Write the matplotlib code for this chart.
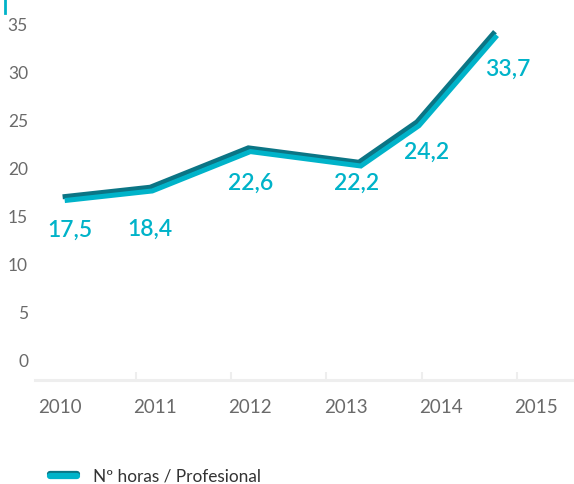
import matplotlib.pyplot as plt
import matplotlib.transforms as mtransforms
import matplotlib.patheffects as pe
from matplotlib.lines import Line2D

# data
years = ["2010", "2011", "2012", "2013", "2014", "2015"]
x_pos = [0.23, 1.15, 2.18, 3.34, 3.95, 4.77]          # where the points sit on the category axis
line_vals = [17.0, 18.0, 22.1, 20.6, 24.8, 34.2]     # drawn height of the line
labels = ["17,5", "18,4", "22,6", "22,2", "24,2", "33,7"]
series_name = "Nº horas / Profesional"

# label placement (pixel offsets from the point, y downward)
label_off = [(7, 33), (0, 42), (2, 35), (-2, 21), (10, 30), (13, 38)]

dark = "#0b7585"
cyan = "#00b3c9"
grey = "#6a6a6a"

plt.rcParams["font.family"] = ["Lato", "DejaVu Sans"]

fig = plt.figure(figsize=(5.74, 4.84), dpi=100)
ax = fig.add_axes([35 / 574, 1 - 380 / 484, 1 - 35 / 574, 380 / 484])

ax.plot(x_pos, line_vals, color=dark, lw=3.6, solid_capstyle="butt",
        solid_joinstyle="miter")
shift = mtransforms.offset_copy(ax.transData, fig=fig, x=1.5, y=-2.7, units="points")
ax.plot(x_pos, line_vals, color=cyan, lw=3.6, solid_capstyle="butt",
        solid_joinstyle="miter", transform=shift)

for x, y, t, (dx, dy) in zip(x_pos, line_vals, labels, label_off):
    ax.annotate(t, (x, y), xytext=(dx * 0.72, -dy * 0.72), textcoords="offset points",
                ha="center", va="center", color=cyan, fontsize=16.5, fontweight="semibold")

ax.set_xlim(-0.06, 5.6)
ax.set_ylim(-2.08, 37.5)

for s in ["top", "right", "left"]:
    ax.spines[s].set_visible(False)
ax.spines["bottom"].set_color("#eeeeee")
ax.spines["bottom"].set_linewidth(2.2)

ax.set_xticks([1, 2, 3, 4, 5])
ax.set_xticklabels([])
ax.tick_params(axis="x", which="major", direction="in", length=6, width=1.5, color="#eeeeee")
ax.set_xticks([i + 0.2 for i in range(len(years))], minor=True)
ax.set_xticklabels(years, minor=True)
ax.tick_params(axis="x", which="minor", length=0, pad=14, labelsize=13.5, labelcolor=grey)

ax.set_yticks(range(0, 36, 5))
ax.tick_params(axis="y", length=0, pad=5, labelsize=12.5, labelcolor=grey)

# little mark in the top-left corner
fig.add_artist(Line2D([5 / 574, 5 / 574], [1, 1 - 13 / 484], color=cyan, lw=2,
                      transform=fig.transFigure))

handle = Line2D([], [], color=cyan, lw=4.5, solid_capstyle="round",
                path_effects=[pe.SimpleLineShadow(offset=(0, 1.5), shadow_color=dark, alpha=1),
                              pe.Normal()])
fig.legend([handle], [series_name], loc="center left", bbox_to_anchor=(34 / 574, 1 - 477 / 484),
           frameon=False, handlelength=1.6, handletextpad=0.9,
           labelcolor="#333333", prop={"size": 12.4})

fig.savefig("out.png", dpi=100)
